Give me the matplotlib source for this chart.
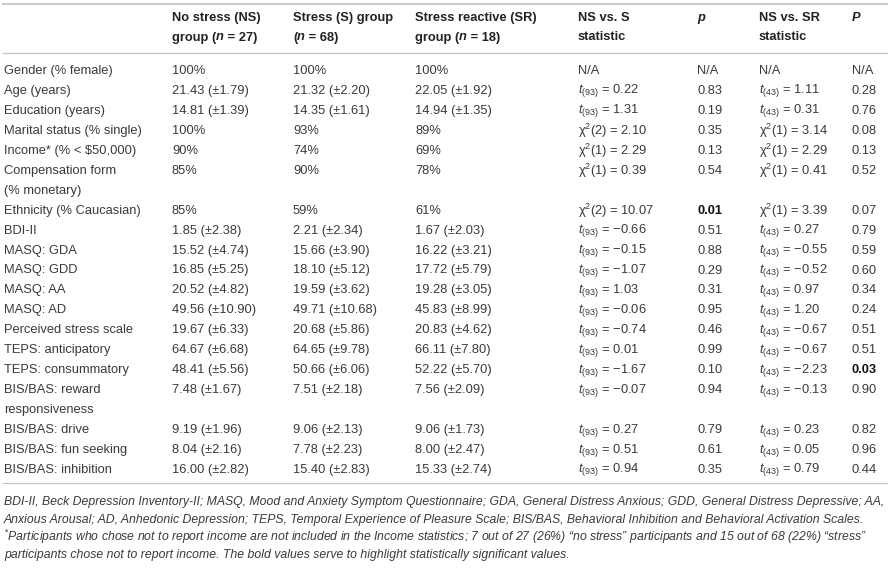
import matplotlib
matplotlib.use("Agg")
import matplotlib.pyplot as plt

plt.rcParams["font.family"] = ["Liberation Sans", "DejaVu Sans"]
plt.rcParams["mathtext.fontset"] = "custom"
plt.rcParams["mathtext.rm"] = "Liberation Sans"
plt.rcParams["mathtext.it"] = "Liberation Sans:italic"
plt.rcParams["mathtext.bf"] = "Liberation Sans:bold"

# table content
labels = ["Gender (% female)", "Age (years)", "Education (years)",
          "Marital status (% single)", "Income* (% < $50,000)",
          "Compensation form\n(% monetary)", "Ethnicity (% Caucasian)", "BDI-II",
          "MASQ: GDA", "MASQ: GDD", "MASQ: AA", "MASQ: AD",
          "Perceived stress scale", "TEPS: anticipatory", "TEPS: consummatory",
          "BIS/BAS: reward\nresponsiveness", "BIS/BAS: drive",
          "BIS/BAS: fun seeking", "BIS/BAS: inhibition"]
ns_vals = ["100%", "21.43 (±1.79)", "14.81 (±1.39)", "100%", "90%", "85%", "85%",
           "1.85 (±2.38)", "15.52 (±4.74)", "16.85 (±5.25)", "20.52 (±4.82)",
           "49.56 (±10.90)", "19.67 (±6.33)", "64.67 (±6.68)", "48.41 (±5.56)",
           "7.48 (±1.67)", "9.19 (±1.96)", "8.04 (±2.16)", "16.00 (±2.82)"]
s_vals = ["100%", "21.32 (±2.20)", "14.35 (±1.61)", "93%", "74%", "90%", "59%",
          "2.21 (±2.34)", "15.66 (±3.90)", "18.10 (±5.12)", "19.59 (±3.62)",
          "49.71 (±10.68)", "20.68 (±5.86)", "64.65 (±9.78)", "50.66 (±6.06)",
          "7.51 (±2.18)", "9.06 (±2.13)", "7.78 (±2.23)", "15.40 (±2.83)"]
sr_vals = ["100%", "22.05 (±1.92)", "14.94 (±1.35)", "89%", "69%", "78%", "61%",
           "1.67 (±2.03)", "16.22 (±3.21)", "17.72 (±5.79)", "19.28 (±3.05)",
           "45.83 (±8.99)", "20.83 (±4.62)", "66.11 (±7.80)", "52.22 (±5.70)",
           "7.56 (±2.09)", "9.06 (±1.73)", "8.00 (±2.47)", "15.33 (±2.74)"]
ns_s_stat = ["N/A", "t93 = 0.22", "t93 = 1.31", "x2(2) = 2.10", "x2(1) = 2.29",
             "x2(1) = 0.39", "x2(2) = 10.07", "t93 = −0.66", "t93 = −0.15",
             "t93 = −1.07", "t93 = 1.03", "t93 = −0.06", "t93 = −0.74",
             "t93 = 0.01", "t93 = −1.67", "t93 = −0.07", "t93 = 0.27",
             "t93 = 0.51", "t93 = 0.94"]
ns_s_p = ["N/A", "0.83", "0.19", "0.35", "0.13", "0.54", "0.01", "0.51", "0.88",
          "0.29", "0.31", "0.95", "0.46", "0.99", "0.10", "0.94", "0.79", "0.61", "0.35"]
ns_sr_stat = ["N/A", "t43 = 1.11", "t43 = 0.31", "x2(1) = 3.14", "x2(1) = 2.29",
              "x2(1) = 0.41", "x2(1) = 3.39", "t43 = 0.27", "t43 = −0.55",
              "t43 = −0.52", "t43 = 0.97", "t43 = 1.20", "t43 = −0.67",
              "t43 = −0.67", "t43 = −2.23", "t43 = −0.13", "t43 = 0.23",
              "t43 = 0.05", "t43 = 0.79"]
ns_sr_p = ["N/A", "0.28", "0.76", "0.08", "0.13", "0.52", "0.07", "0.79", "0.59",
           "0.60", "0.34", "0.24", "0.51", "0.51", "0.03", "0.90", "0.82", "0.96", "0.44"]
bold_p1 = ["Ethnicity (% Caucasian)"]
bold_p2 = ["TEPS: consummatory"]

footnotes = [
    "BDI-II, Beck Depression Inventory-II; MASQ, Mood and Anxiety Symptom Questionnaire; GDA, General Distress Anxious; GDD, General Distress Depressive; AA,",
    "Anxious Arousal; AD, Anhedonic Depression; TEPS, Temporal Experience of Pleasure Scale; BIS/BAS, Behavioral Inhibition and Behavioral Activation Scales.",
    "$^{*}$Participants who chose not to report income are not included in the Income statistics; 7 out of 27 (26%) \u201cno stress\u201d participants and 15 out of 68 (22%) \u201cstress\u201d",
    "participants chose not to report income. The bold values serve to highlight statistically significant values.",
]

W, H = 891, 569
fig = plt.figure(figsize=(W / 100, H / 100), dpi=100)
TXT = "#3a3a3a"
FS = 9.3


def fy(y):
    return 1 - y / H


def fx(x):
    return x / W


def stat_text(s):
    # short codes -> mathtext
    if s.startswith("t93"):
        return r"$\mathit{t}_{(93)}$" + s[3:]
    if s.startswith("t43"):
        return r"$\mathit{t}_{(43)}$" + s[3:]
    if s.startswith("x2"):
        return "χ$^{2}$" + s[2:]
    return s


cols_x = [4, 172, 293, 415, 578, 697, 759, 852]
renderer = fig.canvas.get_renderer()


def runs(x, y, parts, size=FS):
    # bold header pieces, one after another
    for txt, style in parts:
        t = fig.text(fx(x), fy(y), txt, fontsize=size, fontweight="bold",
                     fontstyle=style, color="#222222", va="center")
        bb = t.get_window_extent(renderer)
        x += bb.width


# header
headers = [
    (1, [[("No stress (NS)", "normal")], [("group (", "normal"), ("n", "italic"), (" = 27)", "normal")]]),
    (2, [[("Stress (S) group", "normal")], [("(", "normal"), ("n", "italic"), (" = 68)", "normal")]]),
    (3, [[("Stress reactive (SR)", "normal")], [("group (", "normal"), ("n", "italic"), (" = 18)", "normal")]]),
    (4, [[("NS vs. S", "normal")], [("statistic", "normal")]]),
    (5, [[("p", "italic")]]),
    (6, [[("NS vs. SR", "normal")], [("statistic", "normal")]]),
    (7, [[("P", "italic")]]),
]
for ci, lines in headers:
    for li, parts in enumerate(lines):
        runs(cols_x[ci], 18 + 19.5 * li, parts)

# rules
fig.add_artist(plt.Line2D([fx(3), fx(887)], [fy(4), fy(4)], color="#cccccc", lw=1.6))
fig.add_artist(plt.Line2D([fx(3), fx(887)], [fy(53), fy(53)], color="#c4c4c4", lw=0.9))
fig.add_artist(plt.Line2D([fx(3), fx(887)], [fy(483), fy(483)], color="#c4c4c4", lw=0.9))

# body
y = 71
row_h = 19.95
for i, lab in enumerate(labels):
    for k, ln in enumerate(lab.split("\n")):
        fig.text(fx(cols_x[0]), fy(y + k * row_h), ln.replace("$", r"\$"),
                 fontsize=FS, color=TXT, va="center")
    cells = [ns_vals[i], s_vals[i], sr_vals[i], stat_text(ns_s_stat[i]),
             ns_s_p[i], stat_text(ns_sr_stat[i]), ns_sr_p[i]]
    for j, c in enumerate(cells):
        bold = (j == 4 and lab in bold_p1) or (j == 6 and lab in bold_p2)
        fig.text(fx(cols_x[j + 1]), fy(y), c, fontsize=FS, va="center",
                 color="#111111" if bold else TXT,
                 fontweight="bold" if bold else "normal")
    y += row_h * len(lab.split("\n"))

# footnotes
for k, ln in enumerate(footnotes):
    fig.text(fx(4), fy(502 + 17.6 * k), ln, fontsize=8.8, fontstyle="italic",
             color=TXT, va="center")

fig.savefig("out.png", dpi=100, facecolor="white")
